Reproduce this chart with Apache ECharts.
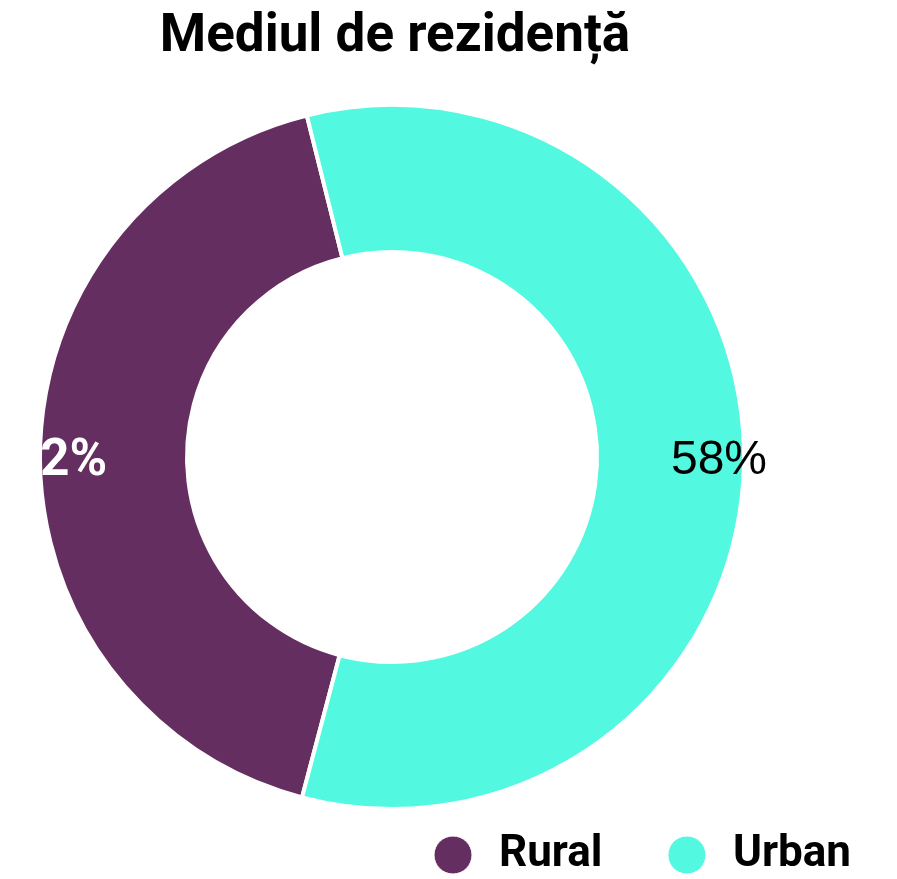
<!DOCTYPE html>
<html>
<head>
<meta charset="utf-8">
<script src="https://cdn.jsdelivr.net/npm/echarts@6/dist/echarts.min.js"></script>
<style>
  html, body { margin: 0; padding: 0; background: #fff; }
  #chart { width: 897px; height: 879px; }
</style>
</head>
<body>
<div id="chart"></div>
<script>
  // datele graficului
  const titlu = 'Mediul de rezidență';
  const categorii = ['Rural', 'Urban'];
  const procente = [42, 58];
  const culori = ['#652e60', '#52f8e0'];

  const stilEticheta = [
    { color: '#fff', fontFamily: 'Roboto', fontWeight: 'bold', fontSize: 51, offset: [-6, 8] },
    { color: '#000', fontFamily: 'Liberation Sans', fontWeight: 'normal', fontSize: 48, offset: [0, 1] }
  ];

  let myChart = echarts.init(document.getElementById('chart'));

  const date = categorii.map((c, i) => ({
    name: c,
    value: procente[i],
    itemStyle: { color: culori[i] }
  }));

  myChart.setOption({
    animation: false,
    title: {
      text: titlu,
      left: 390,
      textAlign: 'center',
      top: 6,
      textStyle: {
        fontFamily: 'Roboto',
        fontWeight: 'bold',
        fontSize: 53,
        color: '#000'
      }
    },
    legend: {
      data: categorii,
      right: 41,
      top: 828,
      icon: 'circle',
      itemWidth: 38,
      itemHeight: 38,
      itemGap: 65,
      itemStyle: { borderColor: '#fff', borderWidth: 1 },
      textStyle: {
        fontFamily: 'Roboto',
        fontWeight: 'bold',
        fontSize: 44,
        color: '#000',
        padding: [0, 0, 0, 22]
      }
    },
    series: [
      {
        name: 'Mediul de rezidență',
        type: 'pie',
        center: [392, 457],
        radius: [205, 352],
        clockwise: false,
        startAngle: 104,
        label: { show: false },
        labelLine: { show: false },
        itemStyle: { borderColor: '#fff', borderWidth: 4 },
        emphasis: { scale: false },
        data: date
      },
      {
        // serie invizibila doar pentru etichete
        name: 'etichete',
        type: 'pie',
        silent: true,
        center: [392, 457],
        radius: [296, 352],
        clockwise: false,
        startAngle: 104,
        itemStyle: { color: 'rgba(0,0,0,0)' },
        labelLine: { show: false },
        label: {
          show: true,
          position: 'inside',
          formatter: '{c}%'
        },
        data: categorii.map((c, i) => ({
          name: c,
          value: procente[i],
          label: stilEticheta[i]
        }))
      }
    ]
  });
</script>
</body>
</html>
